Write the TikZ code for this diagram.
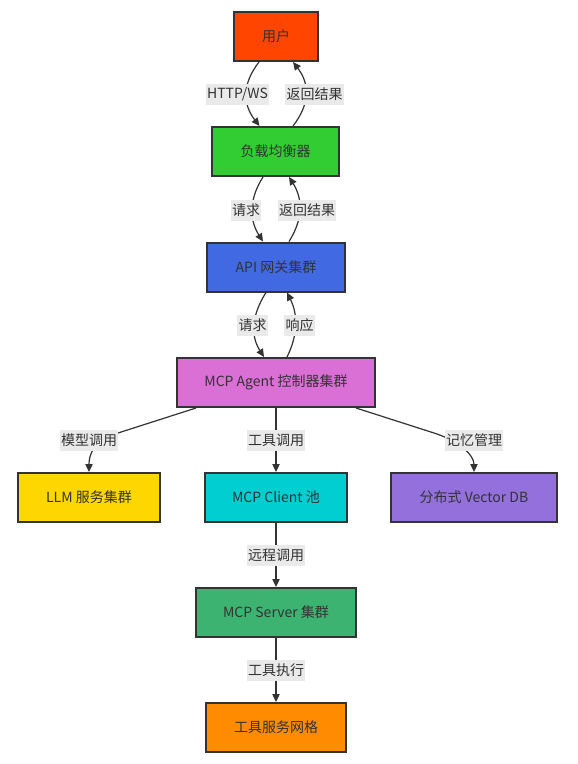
\documentclass[tikz,border=0pt]{standalone}
\usepackage{fontspec}
\setmainfont{Noto Sans CJK SC}
\usetikzlibrary{arrows.meta,calc}
\definecolor{edgec}{HTML}{333333}
\definecolor{txt}{HTML}{333333}
\definecolor{lblbg}{HTML}{EAEAEA}
\definecolor{cUser}{HTML}{FF4500}
\definecolor{cLB}{HTML}{32CD32}
\definecolor{cAPI}{HTML}{4169E1}
\definecolor{cAgent}{HTML}{DA70D6}
\definecolor{cLLM}{HTML}{FFD700}
\definecolor{cClient}{HTML}{00CED1}
\definecolor{cDB}{HTML}{9370DB}
\definecolor{cServer}{HTML}{3CB371}
\definecolor{cTool}{HTML}{FF8C00}
\begin{document}
\begin{tikzpicture}[x=0.75pt,y=-0.75pt,
  box/.style={draw=edgec, line width=1.5pt, text=txt, minimum height=36.75pt, inner sep=0pt, font=\fontsize{10.5}{12}\selectfont},
  lbl/.style={fill=lblbg, text=txt, inner xsep=1pt, inner ysep=0pt, minimum height=15.75pt, font=\fontsize{10.5}{12}\selectfont},
  conn/.style={draw=edgec, line width=0.9pt, -{Triangle[length=6pt,width=5.5pt]}}]
\useasboundingbox (0,0) rectangle (578,764);
\fill[white] (0,0) rectangle (578,764);

\node[box, fill=cUser, minimum width=63pt] (user) at (276,36.5) {用户};
\node[box, fill=cLB, minimum width=95.25pt] (lb) at (275.5,151.5) {负载均衡器};
\node[box, fill=cAPI, minimum width=103.5pt] (api) at (276,267) {API 网关集群};
\node[box, fill=cAgent, minimum width=148.5pt] (agent) at (276,382.5) {MCP Agent 控制器集群};
\node[box, fill=cLLM, minimum width=106.5pt] (llm) at (89,497.5) {LLM 服务集群};
\node[box, fill=cClient, minimum width=106.5pt] (client) at (276,497.5) {MCP Client 池};
\node[box, fill=cDB, minimum width=124.5pt] (db) at (474,497.5) {分布式 Vector DB};
\node[box, fill=cServer, minimum width=120pt] (server) at (276,612.5) {MCP Server 集群};
\node[box, fill=cTool, minimum width=105pt] (tool) at (276,727.5) {工具服务网格};

% user <-> lb
\draw[conn] ($(user.south)+(-17,0)$) .. controls +(-17,22) and +(-17,-22) .. ($(lb.north)+(-16,0)$);
\draw[conn] ($(lb.north)+(17.5,0)$) .. controls +(17,-22) and +(17,22) .. ($(user.south)+(17,0)$);
% lb <-> api
\draw[conn] ($(lb.south)+(-12.5,0)$) .. controls +(-14,22) and +(-14,-22) .. ($(api.north)+(-13,0)$);
\draw[conn] ($(api.north)+(13,0)$) .. controls +(14,-22) and +(14,22) .. ($(lb.south)+(13.5,0)$);
% api <-> agent
\draw[conn] ($(api.south)+(-10,0)$) .. controls +(-14,22) and +(-14,-22) .. ($(agent.north)+(-12,0)$);
\draw[conn] ($(agent.north)+(11,0)$) .. controls +(11,-22) and +(11,22) .. ($(api.south)+(11,0)$);
% agent fan-out
\coordinate (bl) at (118,433);
\coordinate (br) at (434,433);
\draw[conn] ($(agent.south)+(-80,0)$) -- (bl) .. controls (93,441) and (89,455) .. (llm.north);
\draw[conn] (agent.south) -- (client.north);
\draw[conn] ($(agent.south)+(80,0)$) -- (br) .. controls (459,441) and (474,455) .. (db.north);
% lower chain
\draw[conn] (client.south) -- (server.north);
\draw[conn] (server.south) -- (tool.north);

% labels
\node[lbl] (l1) at (237.5,94) {HTTP/WS};
\node[lbl] (l2) at (314.5,94) {返回结果};
\node[lbl] (l3) at (246,210) {请求};
\node[lbl] (l4) at (307,210) {返回结果};
\node[lbl] (l5) at (252.5,325) {请求};
\node[lbl] (l6) at (299.5,325) {响应};
\node[lbl] (l7) at (89,440) {模型调用};
\node[lbl] (l8) at (276,440) {工具调用};
\node[lbl] (l9) at (474,440) {记忆管理};
\node[lbl] (l10) at (276,555) {远程调用};
\node[lbl] (l11) at (276,670) {工具执行};
\end{tikzpicture}
\end{document}
